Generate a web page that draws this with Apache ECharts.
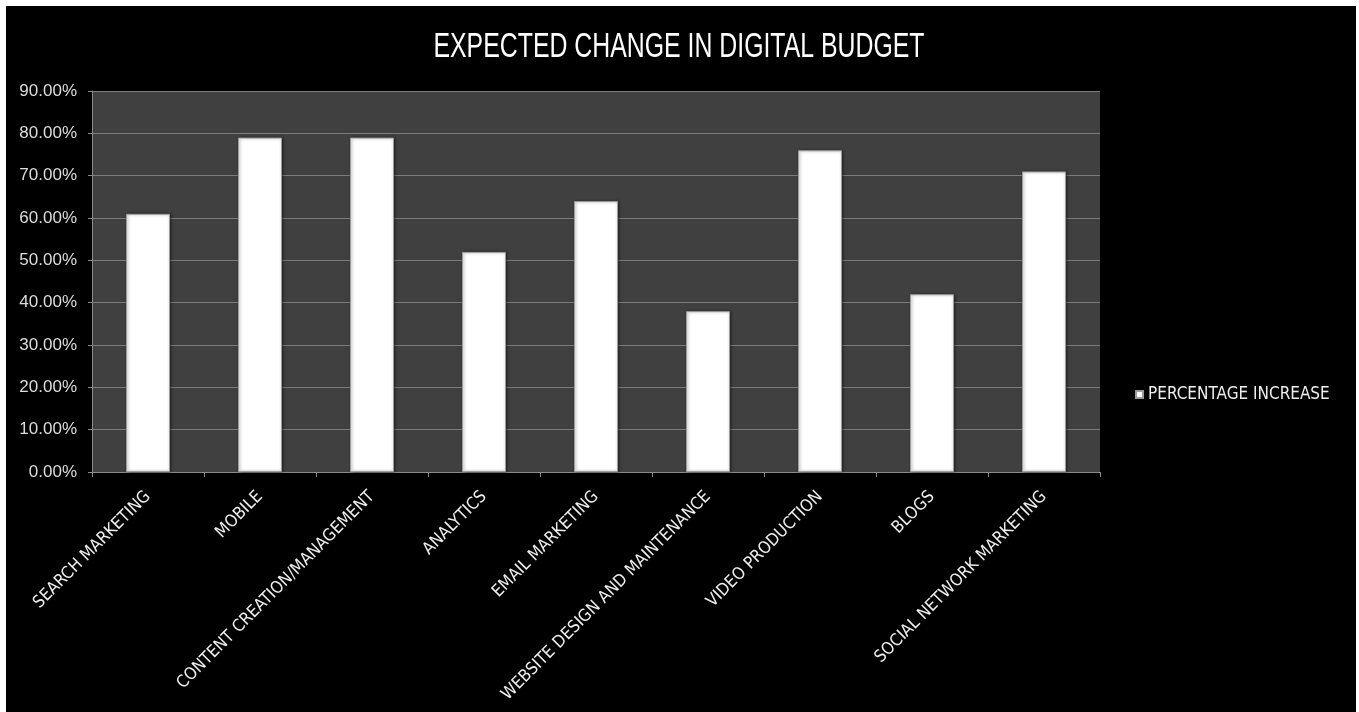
<!DOCTYPE html>
<html>
<head>
<meta charset="utf-8">
<script src="https://cdn.jsdelivr.net/npm/echarts@6/dist/echarts.min.js"></script>
<style>
  html, body { margin: 0; padding: 0; background: #ffffff; width: 1359px; height: 712px; overflow: hidden; }
  #chart { position: absolute; left: 6px; top: 6px; width: 1350px; height: 706px; background: #000000; }
</style>
</head>
<body>
<div id="chart"></div>
<script>
// Expected change in digital budget, by channel
const categories = [
  'SEARCH MARKETING',
  'MOBILE',
  'CONTENT CREATION/MANAGEMENT',
  'ANALYTICS',
  'EMAIL MARKETING',
  'WEBSITE DESIGN AND MAINTENANCE',
  'VIDEO PRODUCTION',
  'BLOGS',
  'SOCIAL NETWORK MARKETING'
];
const percentageIncrease = [0.61, 0.79, 0.79, 0.52, 0.64, 0.38, 0.76, 0.42, 0.71];
const seriesName = 'PERCENTAGE INCREASE';
const chartTitle = 'EXPECTED CHANGE IN DIGITAL BUDGET';

const narrow = "'DejaVu Sans Condensed', 'Liberation Sans Narrow', sans-serif";
const regular = "'Liberation Sans', Arial, sans-serif";

const chart = echarts.init(document.getElementById('chart'), null, { renderer: 'canvas' });
chart.setOption({
  backgroundColor: '#000000',
  animation: false,
  // tall, horizontally squeezed heading
  graphic: [{
    type: 'text',
    x: 673,
    y: 24,
    scaleX: 0.71,
    scaleY: 1,
    style: {
      text: chartTitle,
      fill: '#ffffff',
      font: "normal 35px 'Liberation Sans', Arial, sans-serif",
      textAlign: 'center',
      textVerticalAlign: 'top'
    }
  }],
  legend: {
    data: [seriesName],
    orient: 'vertical',
    left: 1129,
    top: 380,
    padding: 0,
    itemWidth: 7,
    itemHeight: 7,
    icon: 'rect',
    textStyle: { color: '#eeeeee', fontFamily: narrow, fontSize: 17 }
  },
  grid: {
    left: 86,
    top: 85,
    width: 1008,
    height: 381,
    outerBoundsMode: 'none',
    containLabel: false,
    show: true,
    backgroundColor: '#404040',
    borderWidth: 0
  },
  xAxis: {
    type: 'category',
    data: categories,
    axisLine: { show: true, lineStyle: { color: '#8a8a8a', width: 1 } },
    axisTick: { show: true, inside: false, length: 5, alignWithLabel: false, lineStyle: { color: '#8a8a8a' } },
    axisLabel: {
      interval: 0,
      rotate: 45,
      margin: 22,
      color: '#eeeeee',
      fontFamily: narrow,
      fontSize: 17
    }
  },
  yAxis: {
    type: 'value',
    min: 0,
    max: 0.9,
    interval: 0.1,
    axisLine: { show: true, lineStyle: { color: '#8a8a8a', width: 1 } },
    axisTick: { show: true, inside: false, length: 4, lineStyle: { color: '#8a8a8a' } },
    splitLine: { show: true, lineStyle: { color: '#7c7c7c', width: 1 } },
    axisLabel: {
      margin: 15,
      color: '#dddddd',
      fontFamily: regular,
      fontSize: 17,
      formatter: v => (v * 100).toFixed(2) + '%'
    }
  },
  series: [{
    name: seriesName,
    type: 'bar',
    data: percentageIncrease,
    barWidth: 44,
    itemStyle: {
      color: '#ffffff',
      borderColor: '#9c9c9c',
      borderWidth: 1,
      shadowColor: 'rgba(0,0,0,0.45)',
      shadowBlur: 3,
      shadowOffsetX: 1,
      shadowOffsetY: 0
    }
  }]
});
</script>
</body>
</html>
